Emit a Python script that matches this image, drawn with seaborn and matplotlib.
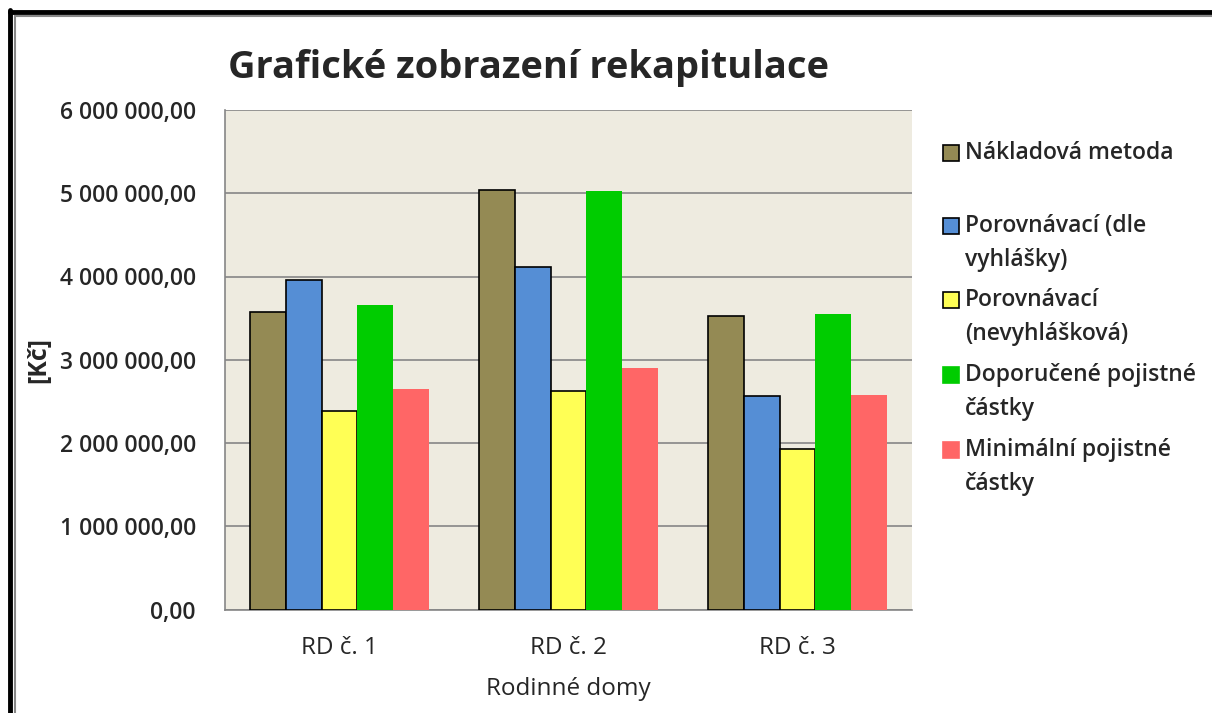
import numpy as np
import pandas as pd
import matplotlib
matplotlib.use("Agg")
import matplotlib.pyplot as plt
import seaborn as sns
from matplotlib.patches import Rectangle
from matplotlib.ticker import FuncFormatter, FixedLocator

# Data (Kč)
houses = ["RD č. 1", "RD č. 2", "RD č. 3"]
methods = ["Nákladová metoda", "Porovnávací (dle\nvyhlášky)", "Porovnávací\n(nevyhlášková)",
           "Doporučené pojistné\nčástky", "Minimální pojistné\nčástky"]
nakladova = [3570000, 5040000, 3520000]
porovnavaci_vyhl = [3960000, 4120000, 2570000]
porovnavaci_nevyhl = [2390000, 2620000, 1930000]
doporucene = [3660000, 5030000, 3550000]
minimalni = [2650000, 2900000, 2580000]

colors = ["#948A54", "#558ED5", "#FFFF55", "#00CC00", "#FF6666"]
edged = [True, True, True, False, False]

df = pd.DataFrame({
    "house": houses * 5,
    "method": np.repeat(methods, 3),
    "value": nakladova + porovnavaci_vyhl + porovnavaci_nevyhl + doporucene + minimalni,
})

sns.set_style("white")
plt.rcParams["font.family"] = ["Open Sans", "DejaVu Sans"]

W, H = 1212, 713
fig = plt.figure(figsize=(W / 100, H / 100), dpi=100)
ax = fig.add_axes([225 / W, 1 - 609.5 / H, (912 - 225) / W, (609.5 - 110) / H])
ax.set_facecolor("#EEEBE0")

sns.barplot(data=df, x="house", y="value", hue="method", hue_order=methods,
            palette=colors, saturation=1, width=0.785, gap=0, ax=ax, legend=False, zorder=3)

for cont, has_edge in zip(ax.containers, edged):
    for bar in cont:
        if has_edge:
            bar.set_edgecolor("black")
            bar.set_linewidth(1.2)
        else:
            bar.set_edgecolor("none")

ax.set_ylim(0, 6000000)
ax.set_xlim(-0.5, 2.5)
ax.yaxis.set_major_locator(FixedLocator(np.arange(0, 6000001, 1000000)))
ax.yaxis.set_major_formatter(FuncFormatter(lambda v, p: f"{v:,.2f}".replace(",", " ").replace(".", ",")))
ax.grid(axis="y", color="#868686", linewidth=1.2, zorder=0)
ax.set_axisbelow(True)

for s in ["top", "right"]:
    ax.spines[s].set_visible(False)
for s in ["left", "bottom"]:
    ax.spines[s].set_color("#868686")
    ax.spines[s].set_linewidth(1.2)

ax.set_xticks([0, 1, 2])
ax.set_xticks([-0.5, 0.5, 1.5, 2.5], minor=True)
ax.tick_params(axis="x", which="major", length=0, pad=19, labelsize=17.5)
ax.tick_params(axis="x", which="minor", length=8, width=1.2, color="#868686", direction="out")
ax.tick_params(axis="y", length=8, width=1.2, color="#868686", direction="out", pad=13, labelsize=16.5)
for lab in ax.get_yticklabels():
    lab.set_fontweight("semibold")

ax.set_xlabel("Rodinné domy", fontsize=17.5, labelpad=12)
ax.set_ylabel("[Kč]", fontsize=18, fontweight="bold", labelpad=6)

fig.text(228 / W, 1 - 68 / H, "Grafické zobrazení rekapitulace", fontsize=27.4,
         fontweight="bold", ha="left", va="center")

# legend built by hand so the swatch sits on the first text line, as in Excel
legend_rows = [153, 226, 300, 375, 450]
for label, c, e, row in zip(methods, colors, edged, legend_rows):
    fig.add_artist(Rectangle((943 / W, 1 - (row + 8) / H), 16 / W, 16 / H, transform=fig.transFigure,
                             facecolor=c, edgecolor="black" if e else c, linewidth=1.2))
    fig.text(965 / W, 1 - (row - 12) / H, label, fontsize=16.5, fontweight="semibold",
             ha="left", va="top", linespacing=1.55)

# double frame on the top and left edge
fig.add_artist(plt.Line2D([10 / W, 10 / W], [0, 1 - 10 / H], transform=fig.transFigure,
                          color="black", linewidth=3.5))
fig.add_artist(plt.Line2D([10 / W, 1], [1 - 12 / H, 1 - 12 / H], transform=fig.transFigure,
                          color="black", linewidth=3.5))
fig.add_artist(plt.Line2D([15 / W, 15 / W], [0, 1 - 15.5 / H], transform=fig.transFigure,
                          color="#888888", linewidth=1.5))
fig.add_artist(plt.Line2D([15 / W, 1], [1 - 15.5 / H, 1 - 15.5 / H], transform=fig.transFigure,
                          color="#888888", linewidth=1.5))

fig.savefig("out.png", dpi=100)
